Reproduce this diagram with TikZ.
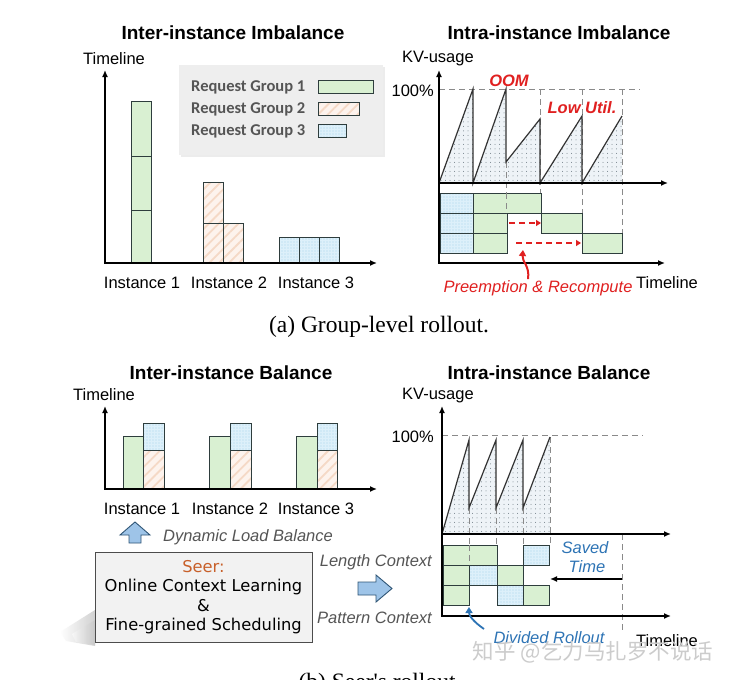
\documentclass[tikz,border=0pt]{standalone}
\usepackage{fontspec}
\setmainfont{Liberation Sans}
\newfontfamily\serifcap{Liberation Serif}
\newfontfamily\legfont{Carlito}
\newfontfamily\seerfont{DejaVu Sans}
\newfontfamily\cjkfont{Noto Sans CJK SC}
\usetikzlibrary{arrows.meta,patterns.meta,shadows}
\definecolor{edge}{HTML}{2E3D3D}
\definecolor{grnfill}{HTML}{D9F0D2}
\definecolor{hatbg}{HTML}{FDF3ED}
\definecolor{hatline}{HTML}{F5D9C6}
\definecolor{blubg}{HTML}{DDF0FA}
\definecolor{bludot}{HTML}{A6D2EC}
\definecolor{sawbg}{HTML}{EEF3F7}
\definecolor{sawdot}{HTML}{6F7C85}
\definecolor{oomred}{HTML}{E02020}
\definecolor{txtgray}{HTML}{555555}
\definecolor{dashgray}{HTML}{8A8A8A}
\definecolor{seerorange}{HTML}{C8602A}
\definecolor{arrowblue}{HTML}{9EC4E8}
\definecolor{arrowedge}{HTML}{2F5575}
\definecolor{savedblue}{HTML}{2E74B5}
\definecolor{legbg}{HTML}{EEEEEE}
\definecolor{boxbg}{HTML}{F2F2F2}
\begin{document}
\begin{tikzpicture}[x=1pt,y=-1pt,
  lbl/.style={font=\fontsize{16.5}{19}\selectfont, inner sep=0pt},
  ttl/.style={font=\bfseries\fontsize{19}{22}\selectfont, inner sep=0pt},
  note/.style={font=\itshape\fontsize{16.5}{19}\selectfont, text=txtgray, inner sep=0pt},
  rednote/.style={font=\itshape\fontsize{16.5}{19}\selectfont, text=oomred, inner sep=0pt},
  redbold/.style={font=\bfseries\itshape\fontsize{16.5}{19}\selectfont, text=oomred, inner sep=0pt},
  bluenote/.style={font=\itshape\fontsize{16.5}{19}\selectfont, text=savedblue, inner sep=0pt},
  legtext/.style={font=\legfont\bfseries\fontsize{16.5}{18}\selectfont, text=txtgray, inner sep=0pt},
  grn/.style={draw=edge, fill=grnfill, line width=0.9pt},
  hat/.style={draw=edge, line width=0.9pt, preaction={fill=hatbg}, pattern={Lines[angle=45,distance=7pt,line width=1.8pt]}, pattern color=hatline},
  blu/.style={draw=edge, line width=0.9pt, preaction={fill=blubg}, pattern={Dots[distance=3pt,radius=0.55pt]}, pattern color=bludot},
  sawfill/.style={preaction={fill=sawbg}, pattern={Dots[distance=4.5pt,radius=0.5pt]}, pattern color=sawdot},
  saw/.style={draw=black!80, line width=1.2pt, line join=miter},
  axisline/.style={line width=1.8pt, {Latex[length=7pt,width=6pt]}-{Latex[length=7pt,width=6pt]}},
  haxis/.style={line width=1.8pt, -{Latex[length=7pt,width=6pt]}},
  dsh/.style={draw=dashgray, line width=1pt, dash pattern=on 6pt off 4pt},
  reddash/.style={draw=oomred, line width=2pt, dash pattern=on 6pt off 4pt, -{Triangle[length=5pt,width=6pt]}},
  blockarrow/.style={fill=arrowblue, draw=arrowedge, line width=0.9pt, line join=miter},
]
\useasboundingbox (0,0) rectangle (732,680);
\fill[white] (0,0) rectangle (732,680);

% ================= (a) left =================
\node[ttl] (t1) at (233,33) {Inter-instance Imbalance};
\node[lbl] (tl1) at (114,59) {Timeline};
% legend
\fill[legbg, drop shadow={shadow xshift=2pt, shadow yshift=-2pt, opacity=0.15}] (179,65) rectangle (383,155);
\node[legtext, anchor=west] (lg1) at (191,87) {Request Group 1};
\node[legtext, anchor=west] (lg2) at (191,109) {Request Group 2};
\node[legtext, anchor=west] (lg3) at (191,131) {Request Group 3};
\draw[grn] (318,80) rectangle (373,93);
\draw[hat] (318,102) rectangle (359,115);
\draw[blu] (318,124) rectangle (346,137);
% bars
\draw[grn] (131,101) rectangle (151,156);
\draw[grn] (131,156) rectangle (151,210);
\draw[grn] (131,210) rectangle (151,263);
\draw[hat] (203,182) rectangle (223,223);
\draw[hat] (203,223) rectangle (223,263);
\draw[hat] (223,223) rectangle (243,263);
\draw[blu] (279,237) rectangle (299,263);
\draw[blu] (299,237) rectangle (319,263);
\draw[blu] (319,237) rectangle (339,263);
\coordinate (a1o) at (105,263);
\coordinate (a1y) at (105,70);
\coordinate (a1x) at (377,263);
\draw[axisline] (a1y) -- (a1o) -- (a1x);
\node[lbl] (a1i1) at (142,283) {Instance 1};
\node[lbl] (a1i2) at (229,283) {Instance 2};
\node[lbl] (a1i3) at (316,283) {Instance 3};

% ================= (a) right =================
\node[ttl] (t2) at (559,33) {Intra-instance Imbalance};
\node[lbl] (kv1) at (438,59) {KV-usage};
\node[lbl, anchor=east] (p1) at (434,91) {100\%};
\path[sawfill] (439,183) -- (473,89) -- (473,183) -- (506,89) -- (506,162) -- (540,119) -- (540,183) -- (582,116) -- (582,183) -- (622,116) -- (622,183) -- cycle;
\draw[dsh] (439,89) -- (640,89);
\draw[dsh] (506,162) -- (506,253);
\draw[dsh] (540,89) -- (540,193);
\draw[dsh] (582,89) -- (582,233);
\draw[dsh] (622,89) -- (622,233);
\draw[saw] (439,183) -- (473,89) -- (473,183) -- (506,89) -- (506,162) -- (540,119) -- (540,183) -- (582,116) -- (582,183) -- (622,116);
\draw[blu] (440,193) rectangle (473,213);
\draw[blu] (440,213) rectangle (473,233);
\draw[blu] (440,233) rectangle (473,253);
\draw[grn] (473,193) rectangle (541,213);
\draw[grn] (473,213) rectangle (507,233);
\draw[grn] (541,213) rectangle (582,233);
\draw[grn] (473,233) rectangle (507,253);
\draw[grn] (582,233) rectangle (622,253);
\draw[dsh] (506,193) -- (506,213);
\coordinate (a2o) at (439,263);
\coordinate (a2y) at (439,70);
\coordinate (a2m) at (439,183);
\coordinate (a2x) at (665,263);
\coordinate (a2mx) at (668,183);
\draw[axisline] (a2y) -- (a2o) -- (a2x);
\draw[haxis] (a2m) -- (a2mx);
\coordinate (r1s) at (509,223);
\coordinate (r1e) at (541,223);
\coordinate (r2s) at (516,243);
\coordinate (r2e) at (581,243);
\draw[reddash] (r1s) -- (r1e);
\draw[reddash] (r2s) -- (r2e);
\node[redbold] (oom) at (509,81) {OOM};
\node[redbold] (low) at (582,108) {Low Util.};
\node[rednote] (pre) at (538,288) {Preemption \& Recompute};
\coordinate (pretip) at (523,250);
\draw[draw=oomred, line width=2pt, -{Triangle[length=6pt,width=7pt]}] ([xshift=-10pt,yshift=1pt]pre.north) .. controls (530,266) and (522,262) .. (pretip);
\node[lbl] (tlx1) at (667,283) {Timeline};

% caption a
\node[font=\serifcap\fontsize{23.5}{26}\selectfont, inner sep=0pt] (capa) at (379,327) {(a) Group-level rollout.};

% ================= (b) left =================
\node[ttl] (t3) at (231,373) {Inter-instance Balance};
\node[lbl] (tl3) at (104,395) {Timeline};
\draw[grn] (123,436) rectangle (143,489);
\draw[hat] (143,450) rectangle (164,489);
\draw[blu] (143,423) rectangle (164,450);
\draw[grn] (209,436) rectangle (230,489);
\draw[hat] (230,450) rectangle (251,489);
\draw[blu] (230,423) rectangle (251,450);
\draw[grn] (296,436) rectangle (317,489);
\draw[hat] (317,450) rectangle (337,489);
\draw[blu] (317,423) rectangle (337,450);
\coordinate (b1o) at (105,489);
\coordinate (b1y) at (105,406);
\coordinate (b1x) at (377,489);
\draw[axisline] (b1y) -- (b1o) -- (b1x);
\node[lbl] (b1i1) at (142,509) {Instance 1};
\node[lbl] (b1i2) at (230,509) {Instance 2};
\node[lbl] (b1i3) at (316,509) {Instance 3};

% up block arrow
\draw[blockarrow] (135,522) -- (150,535) -- (141,535) -- (141,543) -- (129,543) -- (129,535) -- (120,535) -- cycle;
\node[note] (dlb) at (248,537) {Dynamic Load Balance};

% seer box shadow (soft)
\shade[left color=white, right color=black!30, opacity=0.6] (60,632) -- (95,610) -- (95,646) -- (66,641) -- cycle;
\shade[left color=white, right color=black!25, opacity=0.5] (72,634) -- (95,620) -- (95,645) -- (76,642) -- cycle;
\node[draw=black!70, line width=1pt, fill=boxbg, minimum width=217pt, minimum height=90pt, inner sep=0pt, align=center,
      font=\seerfont\fontsize{16.3}{19.4}\selectfont] (seer) at (203.5,597)
  {\textcolor{seerorange}{Seer:}\\Online Context Learning\\\&\\Fine-grained Scheduling};

\node[note, anchor=east] (lc) at (432,562) {Length Context};
\node[note, anchor=east] (pc) at (432,618) {Pattern Context};
\draw[blockarrow] (358,582) -- (376,582) -- (376,575) -- (392,588.5) -- (376,602) -- (376,595) -- (358,595) -- cycle;

% ================= (b) right =================
\node[ttl] (t4) at (549,373) {Intra-instance Balance};
\node[lbl] (kv2) at (438,396) {KV-usage};
\node[lbl, anchor=east] (p2) at (434,437) {100\%};
\path[sawfill] (442,534) -- (469,440) -- (469,508) -- (496,440) -- (496,508) -- (523,440) -- (523,508) -- (550,437) -- (550,534) -- cycle;
\draw[dsh] (442,435) -- (643,435);
\draw[dsh] (469,508) -- (469,565);
\draw[dsh] (496,508) -- (496,545);
\draw[dsh] (523,508) -- (523,545);
\draw[dsh] (550,437) -- (550,545);
\draw[dsh] (622,534) -- (622,630);
\draw[saw] (442,534) -- (469,440) -- (469,508) -- (496,440) -- (496,508) -- (523,440) -- (523,508) -- (550,437);
\draw[grn] (443,545) rectangle (497,565);
\draw[blu] (523,545) rectangle (549,565);
\draw[grn] (443,565) rectangle (469,585);
\draw[blu] (469,565) rectangle (497,585);
\draw[grn] (497,565) rectangle (523,585);
\draw[grn] (443,585) rectangle (469,605);
\draw[blu] (497,585) rectangle (523,605);
\draw[grn] (523,585) rectangle (549,605);
\draw[dsh] (469,545) -- (469,565);
\coordinate (b2o) at (442,616);
\coordinate (b2y) at (442,406);
\coordinate (b2m) at (442,534);
\coordinate (b2x) at (671,616);
\coordinate (b2mx) at (671,534);
\draw[axisline] (b2y) -- (b2o) -- (b2x);
\draw[haxis] (b2m) -- (b2mx);
\coordinate (svs) at (622,579);
\coordinate (sve) at (550,579);
\draw[line width=1.6pt, -{Latex[length=7pt,width=6pt]}] (svs) -- (sve);
\node[bluenote] (saved) at (585,548) {Saved};
\node[bluenote] (stime) at (587,567) {Time};
\node[bluenote] (div) at (549,638) {Divided Rollout};
\coordinate (divtip) at (469,607);
\draw[draw=savedblue, line width=1.8pt, -{Triangle[length=6pt,width=7pt]}] (484,629) .. controls (474,622) and (469,616) .. (divtip);
\node[lbl] (tlx2) at (667,641) {Timeline};

% watermark
\node[font=\cjkfont\fontsize{21.5}{24}\selectfont, text=black!20, inner sep=0pt] (wm) at (593,652) {知乎 @乞力马扎罗不说话};

% caption b (cut by page edge)
\node[font=\serifcap\fontsize{23.5}{26}\selectfont, inner sep=0pt, anchor=base] (capb) at (380,689) {(b) Seer's rollout.};
\end{tikzpicture}
\end{document}
